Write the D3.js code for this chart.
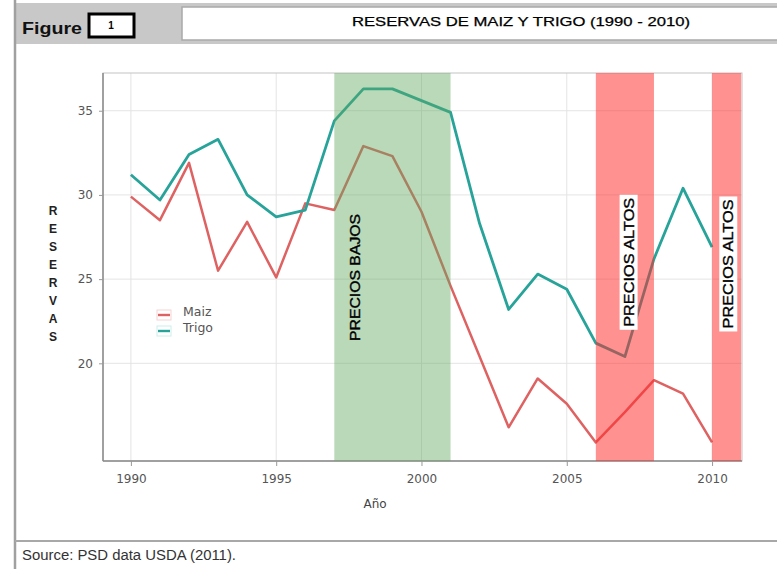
<!DOCTYPE html>
<html>
<head>
<meta charset="utf-8">
<script src="https://cdn.jsdelivr.net/npm/d3@7"></script>
<style>
	body { margin: 0; background: #fff; }
	svg text { font-family: "Liberation Sans", Arial, sans-serif; }
</style>
</head>
<body>
<div id="viz-holder"></div>
<script>
// reservas 1990 - 2010
let years = [1990, 1991, 1992, 1993, 1994, 1995, 1996, 1997, 1998, 1999, 2000,
	2001, 2002, 2003, 2004, 2005, 2006, 2007, 2008, 2009, 2010];
let maiz = [29.9, 28.5, 31.9, 25.5, 28.4, 25.1, 29.5, 29.1, 32.9, 32.3, 29.0,
	24.6, 20.4, 16.2, 19.1, 17.6, 15.3, 17.1, 19.0, 18.2, 15.3];
let trigo = [31.2, 29.7, 32.4, 33.3, 30.0, 28.7, 29.1, 34.4, 36.3, 36.3, 35.6,
	34.9, 28.3, 23.2, 25.3, 24.4, 21.2, 20.4, 26.2, 30.4, 26.9];

let xTicks = [1990, 1995, 2000, 2005, 2010];
let yTicks = [20, 25, 30, 35];

let bandStart = [1997, 2006, 2010];
let bandEnd = [2001, 2008, 2011];
let bandTipo = ['bajo', 'alto', 'alto'];
let bandLabels = ['PRECIOS BAJOS', 'PRECIOS ALTOS', 'PRECIOS ALTOS'];
let seriesNames = ['Maiz', 'Trigo'];

let W = 777, H = 569;
let plot = {left: 103, right: 742, top: 73, bottom: 461};

let svg = d3.select('#viz-holder')
	.append('svg')
	.attr('width', W)
	.attr('height', H);

// ---- marco de la pagina ----
svg.append('rect').attr('x', 15).attr('y', 3).attr('width', W - 15).attr('height', 41).attr('fill', '#c8c8c8');
svg.append('rect').attr('x', 182).attr('y', 7).attr('width', W - 180).attr('height', 33)
	.attr('fill', '#fff').attr('stroke', '#a9a9a9').attr('stroke-width', 1.5);
svg.append('line').attr('x1', 15).attr('x2', 15).attr('y1', 0).attr('y2', H)
	.attr('stroke', '#a0a0a0').attr('stroke-width', 2.5);
svg.append('line').attr('x1', 15).attr('x2', W).attr('y1', 541).attr('y2', 541)
	.attr('stroke', '#a8a8a8').attr('stroke-width', 2);

svg.append('text').attr('x', 22).attr('y', 34)
	.attr('font-size', 17).attr('font-weight', 'bold').attr('fill', '#111')
	.attr('textLength', 60).attr('lengthAdjust', 'spacingAndGlyphs')
	.text('Figure');
svg.append('rect').attr('x', 89).attr('y', 14).attr('width', 45).attr('height', 23)
	.attr('fill', '#fff').attr('stroke', '#000').attr('stroke-width', 3);
svg.append('text').attr('x', 111).attr('y', 29).attr('text-anchor', 'middle')
	.attr('font-size', 10).attr('font-weight', 'bold').text('1');
svg.append('text').attr('x', 521).attr('y', 26).attr('text-anchor', 'middle')
	.attr('font-size', 13).attr('fill', '#000')
	.attr('stroke', '#000').attr('stroke-width', 0.25)
	.attr('textLength', 338).attr('lengthAdjust', 'spacingAndGlyphs')
	.text('RESERVAS DE MAIZ Y TRIGO (1990 - 2010)');

svg.append('text').attr('x', 22).attr('y', 560)
	.attr('font-size', 14).attr('fill', '#333')
	.attr('textLength', 214).attr('lengthAdjust', 'spacingAndGlyphs')
	.text('Source: PSD data USDA (2011).');

// ---- escalas ----
let x = d3.scaleLinear()
	.domain([1989.04, 2011.03])
	.range([plot.left, plot.right]);

let y = d3.scaleLinear()
	.domain([14.2, 37.24])
	.range([plot.bottom, plot.top]);

let g = svg.append('g');

// rejilla
g.selectAll('.gridY')
	.data(yTicks)
	.enter().append('line')
	.attr('class', 'gridY')
	.attr('x1', plot.left).attr('x2', plot.right)
	.attr('y1', d => y(d)).attr('y2', d => y(d))
	.attr('stroke', '#e4e4e4');

g.selectAll('.gridX')
	.data(xTicks)
	.enter().append('line')
	.attr('class', 'gridX')
	.attr('x1', d => x(d)).attr('x2', d => x(d))
	.attr('y1', plot.top).attr('y2', plot.bottom)
	.attr('stroke', '#e4e4e4');

g.append('rect')
	.attr('x', plot.left).attr('y', plot.top)
	.attr('width', plot.right - plot.left).attr('height', plot.bottom - plot.top)
	.attr('fill', 'none').attr('stroke', '#c4c4c4');

// ejes
let xAxis = d3.axisBottom(x).tickValues(xTicks).tickFormat(d3.format('d')).tickSize(5).tickPadding(8);
let yAxis = d3.axisLeft(y).tickValues(yTicks).tickSize(4).tickPadding(6);

let gx = g.append('g')
	.attr('transform', 'translate(0,' + plot.bottom + ')')
	.call(xAxis);
let gy = g.append('g')
	.attr('transform', 'translate(' + plot.left + ',0)')
	.call(yAxis);

[gx, gy].forEach(function (ax) {
	ax.select('.domain').attr('stroke', '#8a8a8a').attr('stroke-width', 1.5);
	ax.selectAll('.tick line').attr('stroke', '#999');
	ax.selectAll('.tick text')
		.attr('fill', '#555')
		.attr('font-size', 12)
		.style('font-family', '"DejaVu Sans", sans-serif');
});
gx.select('.domain').attr('d', 'M' + plot.left + ',0H' + plot.right);
gy.select('.domain').attr('d', 'M0,' + plot.top + 'V' + plot.bottom);

svg.append('text').attr('x', 375).attr('y', 508).attr('text-anchor', 'middle')
	.attr('font-size', 12).attr('fill', '#444')
	.style('font-family', '"DejaVu Sans", sans-serif')
	.text('Año');

// titulo del eje y, letra por letra
svg.selectAll('.yLetter')
	.data('RESERVAS'.split(''))
	.enter().append('text')
	.attr('class', 'yLetter')
	.attr('x', 53)
	.attr('y', (d, i) => 215 + i * 18)
	.attr('text-anchor', 'middle')
	.attr('font-size', 12)
	.attr('font-weight', 'bold')
	.attr('fill', '#222')
	.text(d => d);

// ---- lineas ----
let line = d3.line()
	.x((d, i) => x(years[i]))
	.y(d => y(d));

let colors = {Maiz: '#df6262', Trigo: '#27a39a'};

g.append('path').datum(maiz)
	.attr('d', line)
	.attr('fill', 'none').attr('stroke', colors.Maiz)
	.attr('stroke-width', 2.5).attr('stroke-linejoin', 'round');

g.append('path').datum(trigo)
	.attr('d', line)
	.attr('fill', 'none').attr('stroke', colors.Trigo)
	.attr('stroke-width', 2.8).attr('stroke-linejoin', 'round');

// ---- bandas de precios (encima de las lineas, transparentes) ----
g.selectAll('.band')
	.data(bandStart)
	.enter().append('rect')
	.attr('class', 'band')
	.attr('x', d => x(d))
	.attr('y', plot.top)
	.attr('width', (d, i) => x(bandEnd[i]) - x(d))
	.attr('height', plot.bottom - plot.top)
	.attr('fill', (d, i) => bandTipo[i] == 'bajo' ? 'rgba(95,168,95,0.44)' : 'rgba(255,45,45,0.52)');

// etiquetas de las bandas
let labelAt = [1997.7, 2007.12, 2010.55];
let labelMid = [25.1, 26.0, 25.9];

bandLabels.forEach(function (txt, i) {
	let lg = g.append('g')
		.attr('transform', 'translate(' + x(labelAt[i]) + ',' + y(labelMid[i]) + ') rotate(-90)');
	let t = lg.append('text')
		.attr('text-anchor', 'middle')
		.attr('dy', '0.36em')
		.attr('font-size', 14.5)
		.attr('fill', '#000')
		.attr('stroke', '#000').attr('stroke-width', 0.35)
		.attr('textLength', bandTipo[i] == 'bajo' ? 127 : 129)
		.attr('lengthAdjust', 'spacingAndGlyphs')
		.text(txt);
	if (bandTipo[i] == 'alto') {
		let bb = t.node().getBBox();
		lg.insert('rect', 'text')
			.attr('x', bb.x - 3).attr('y', bb.y - 1)
			.attr('width', bb.width + 6).attr('height', bb.height + 2)
			.attr('fill', '#fff');
	}
});

// ---- leyenda ----
let legend = g.selectAll('.legend')
	.data(seriesNames)
	.enter().append('g')
	.attr('class', 'legend')
	.attr('transform', (d, i) => 'translate(157,' + (315 + i * 16) + ')');

legend.append('rect')
	.attr('x', 0).attr('y', -5).attr('width', 14).attr('height', 10)
	.attr('fill', 'none')
	.attr('stroke', d => d == 'Maiz' ? '#f6d3d3' : '#cdeeea');
legend.append('line')
	.attr('x1', 1).attr('x2', 13).attr('y1', 0).attr('y2', 0)
	.attr('stroke', d => colors[d]).attr('stroke-width', 2.4);
legend.append('text')
	.attr('x', 26).attr('y', 0).attr('dy', '0.1em')
	.attr('font-size', 12.5).attr('fill', '#555')
	.style('font-family', '"DejaVu Sans", sans-serif')
	.text(d => d);
</script>
</body>
</html>
